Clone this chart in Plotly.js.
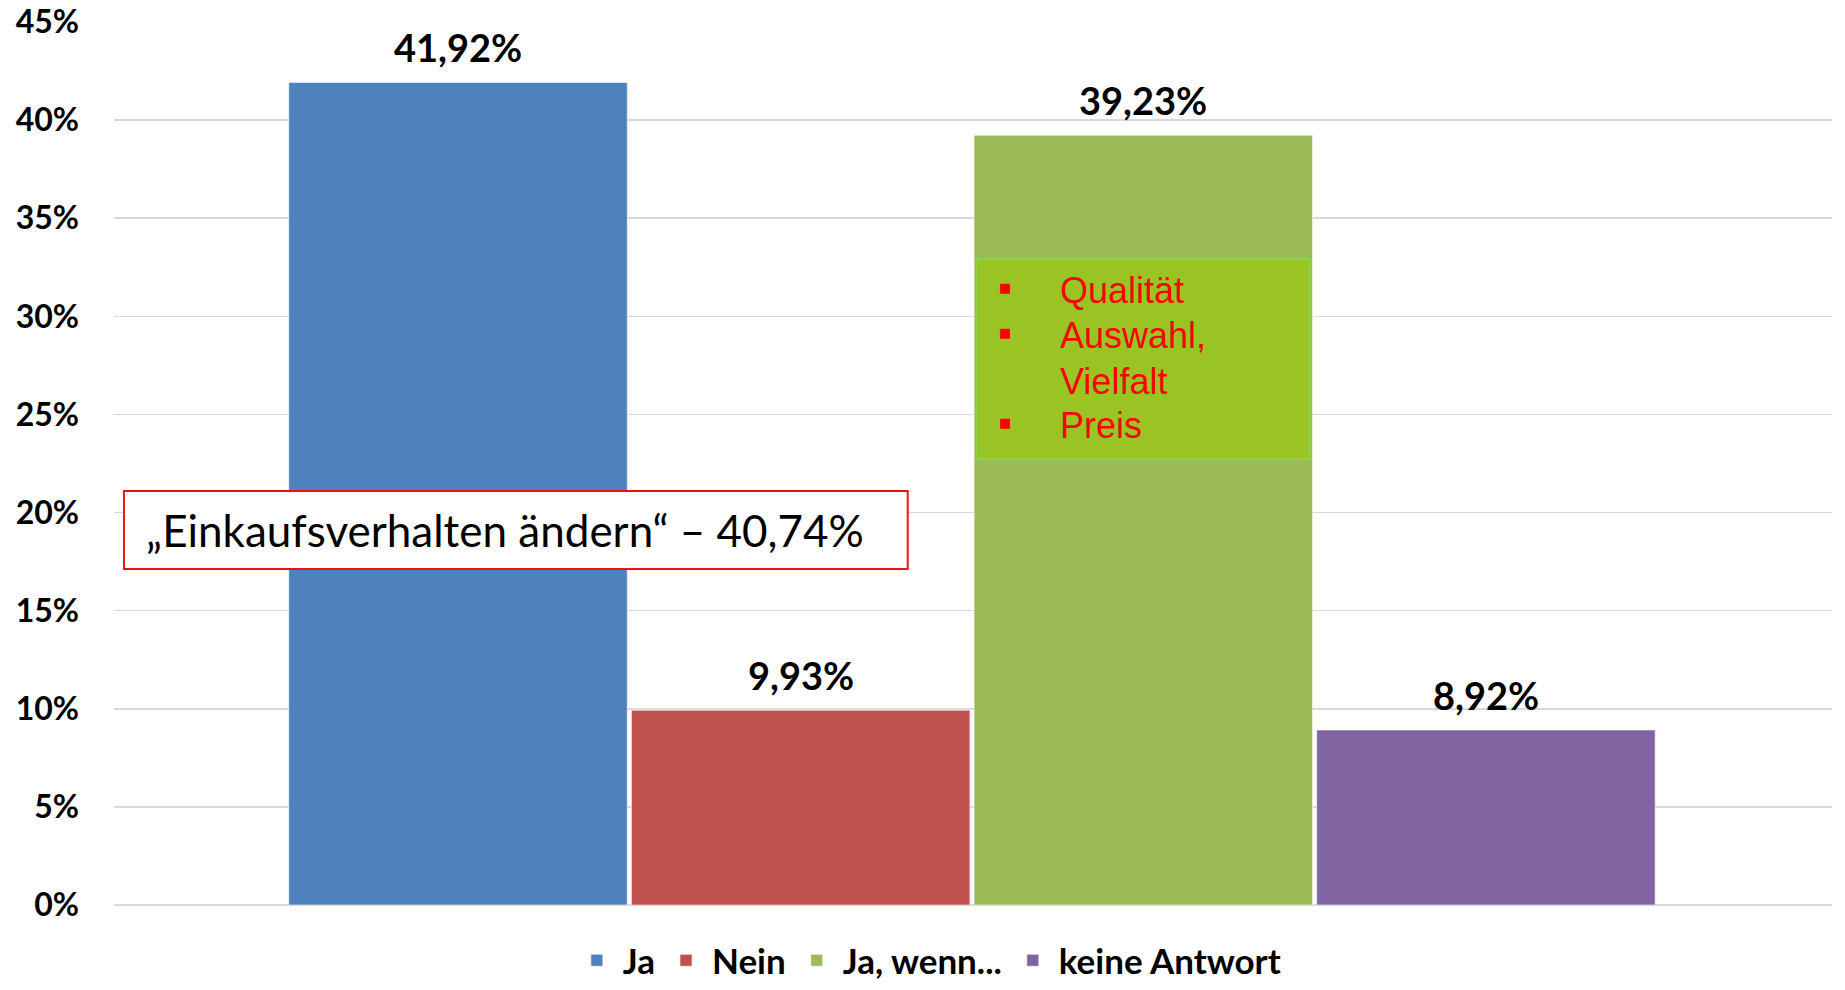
<!DOCTYPE html>
<html>
<head>
<meta charset="utf-8">
<script src="https://cdn.plot.ly/plotly-3.0.1.min.js"></script>
<style>
  html, body { margin: 0; padding: 0; background: #fff; }
  #chart { width: 1845px; height: 990px; }
</style>
</head>
<body>
<div id="chart"></div>
<script>
// Survey answers (percent)
const categories = ['Ja', 'Nein', 'Ja, wenn...', 'keine Antwort'];
const values = [41.92, 9.93, 39.23, 8.92];
const colors = ['#4f81bd', '#c0504d', '#9bbb59', '#8064a2'];

const yTicks = [0, 5, 10, 15, 20, 25, 30, 35, 40, 45];
const yTickText = yTicks.map(v => v + '%');

// Call-out texts
const boxText = '„Einkaufsverhalten ändern“ – 40,74%';
const reasonLines = ['Qualität', 'Auswahl,', 'Vielfalt', 'Preis'];
const reasonBullets = [true, true, false, true];

const boldFont = 'Lato, "Open Sans", sans-serif';

// one trace per answer so the legend gets four entries
const traces = categories.map((cat, i) => ({
    type: 'bar',
    name: cat,
    x: [cat],
    y: [values[i]],
    marker: {
        color: colors[i],
        line: { color: 'rgba(255,255,255,0.6)', width: 1 }
    },
    hoverinfo: 'name+y'
}));

// data labels above the bars
const annotations = categories.map((cat, i) => ({
    x: cat,
    y: values[i],
    xref: 'x',
    yref: 'y',
    text: values[i].toFixed(2).replace('.', ',') + '%',
    showarrow: false,
    yanchor: 'bottom',
    yshift: 10,
    font: { family: boldFont, size: 38, color: '#000', weight: 'bold' }
}));

// red framed note
annotations.push({
    xref: 'paper', yref: 'paper',
    x: 0.0175, y: 0.4247,
    xanchor: 'left', yanchor: 'middle',
    text: boxText,
    showarrow: false,
    font: { family: 'Lato, sans-serif', size: 44, color: '#000' }
});

// green box with reasons
const lineY = [0.6954, 0.6444, 0.5934, 0.5425];
reasonLines.forEach((line, i) => {
    annotations.push({
        xref: 'paper', yref: 'paper',
        x: 0.5495, y: lineY[i],
        xanchor: 'left', yanchor: 'middle',
        text: line,
        showarrow: false,
        font: { family: '"Liberation Sans", Arial, sans-serif', size: 36, color: '#ff0000' }
    });
    if (reasonBullets[i]) {
        annotations.push({
            xref: 'paper', yref: 'paper',
            x: 0.5186, y: lineY[i] + 0.004,
            xanchor: 'center', yanchor: 'middle',
            text: '■',
            showarrow: false,
            font: { family: '"DejaVu Sans", sans-serif', size: 13, color: '#ff0000' }
        });
    }
});

const shapes = [
    {
        type: 'rect', xref: 'paper', yref: 'paper',
        x0: 0.0058, x1: 0.462, y0: 0.3805, y1: 0.4689,
        fillcolor: '#ffffff',
        line: { color: '#ee1111', width: 2 },
        layer: 'above'
    },
    {
        type: 'rect', xref: 'paper', yref: 'paper',
        x0: 0.502, x1: 0.696, y0: 0.5051, y1: 0.7316,
        fillcolor: '#9ac423',
        line: { color: '#8fd24a', width: 2 },
        layer: 'above'
    }
];

const layout = {
    width: 1845,
    height: 990,
    margin: { l: 114, r: 13, t: 22, b: 85, autoexpand: false },
    paper_bgcolor: '#ffffff',
    plot_bgcolor: '#ffffff',
    bargap: 0.012,
    separators: ',.',
    showlegend: true,
    legend: {
        orientation: 'h',
        x: 0.474,
        xanchor: 'center',
        yref: 'container',
        y: 0,
        yanchor: 'bottom',
        bgcolor: 'rgba(0,0,0,0)',
        font: { family: boldFont, size: 35, color: '#000', weight: 'bold' },
        itemwidth: 42
    },
    xaxis: {
        type: 'category',
        range: [-1.004, 4.01],
        showticklabels: false,
        showgrid: false,
        zeroline: false,
        showline: false,
        fixedrange: true
    },
    yaxis: {
        range: [0, 45],
        tickmode: 'array',
        tickvals: yTicks,
        ticktext: yTickText,
        showgrid: true,
        gridcolor: '#d9d9d9',
        gridwidth: 1.5,
        zeroline: true,
        zerolinecolor: '#d9d9d9',
        zerolinewidth: 1.5,
        showline: false,
        ticks: '',
        ticklabelstandoff: 34,
        tickfont: { family: boldFont, size: 32, color: '#000', weight: 'bold' },
        fixedrange: true
    },
    annotations: annotations,
    shapes: shapes
};

Plotly.newPlot('chart', traces, layout, { displayModeBar: false, staticPlot: true });
</script>
</body>
</html>
